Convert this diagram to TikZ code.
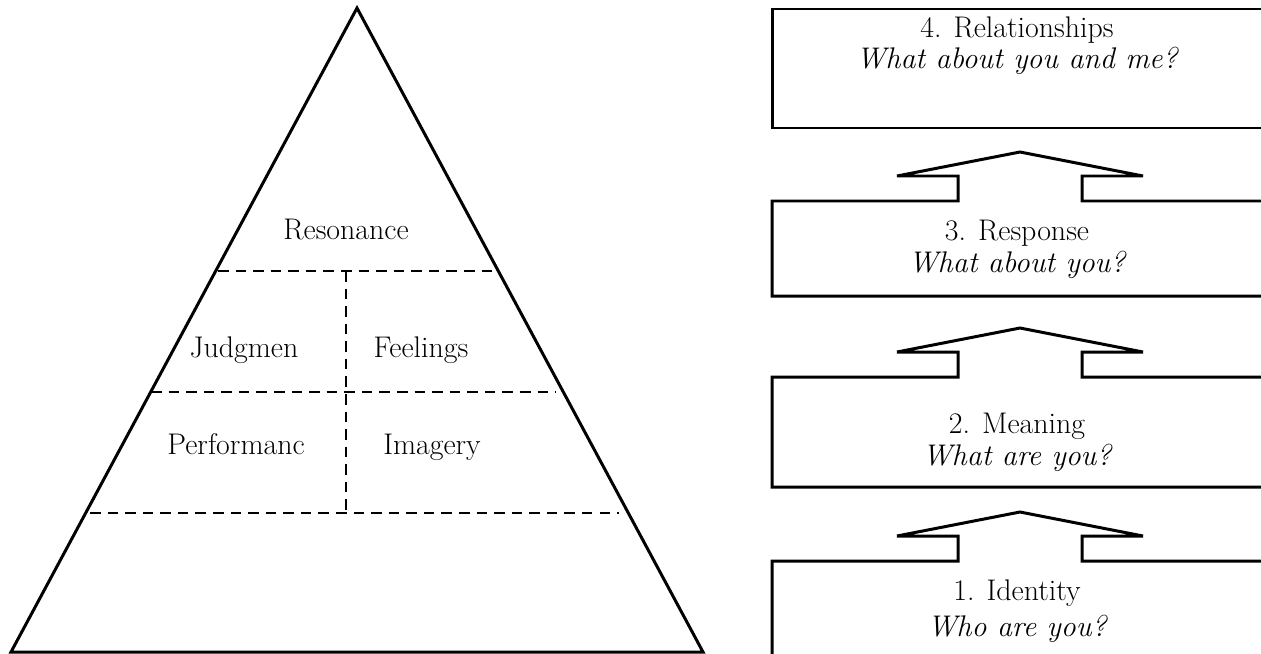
\documentclass[tikz,border=0pt]{standalone}
\usepackage{tikz}

\begin{document}
\begin{tikzpicture}[x=0.02cm,y=-0.02cm,
  edge/.style={line width=1.7pt},
  split/.style={line width=1.5pt,dash pattern=on 6pt off 4pt},
  lbl/.style={font=\fontsize{17}{20}\selectfont,anchor=base,inner sep=0pt},
  ask/.style={lbl,font=\fontsize{17}{20}\selectfont\itshape}]
  \useasboundingbox (0,0) rectangle (1261,653);
  \clip (0,0) rectangle (1261,653);
  % pyramid
  \coordinate (apex) at (357,8);
  \coordinate (bl) at (11,652);
  \coordinate (br) at (703,652);
  \draw[edge] (bl) -- (apex) -- (br) -- cycle;
  \draw[split] (218,271) -- (493,271);
  \draw[split] (151,392) -- (556,392);
  \draw[split] (90,513) -- (619,513);
  \draw[split] (346,271) -- (346,513);
  \node[lbl] (res) at (346,239) {Resonance};
  \node[lbl] (jud) at (244,357) {Judgmen};
  \node[lbl] (fee) at (421,357) {Feelings};
  \node[lbl] (per) at (236,454) {Performanc};
  \node[lbl] (ima) at (432,454) {Imagery};
  % levels
  \draw[edge] (772,9) rectangle (1290,128);
  \foreach \top/\bot in {201/296,377/487,561/700}
    \draw[edge] (1290,\top) -- (1082,\top) -- (1082,\top-25) -- (1143,\top-25)
      -- (1020,\top-49) -- (897,\top-25) -- (958,\top-25) -- (958,\top)
      -- (772,\top) -- (772,\bot) -- (1290,\bot);
  \node[lbl] (rel) at (1017,37) {4. Relationships};
  \node[ask] (relq) at (1017,68) {What about you and me?};
  \node[lbl] (rsp) at (1017,240) {3. Response};
  \node[ask] (rspq) at (1017,272) {What about you?};
  \node[lbl] (mea) at (1017,433) {2. Meaning};
  \node[ask] (meaq) at (1017,465) {What are you?};
  \node[lbl] (ide) at (1017,600) {1. Identity};
  \node[ask] (ideq) at (1017,636) {Who are you?};
\end{tikzpicture}
\end{document}
